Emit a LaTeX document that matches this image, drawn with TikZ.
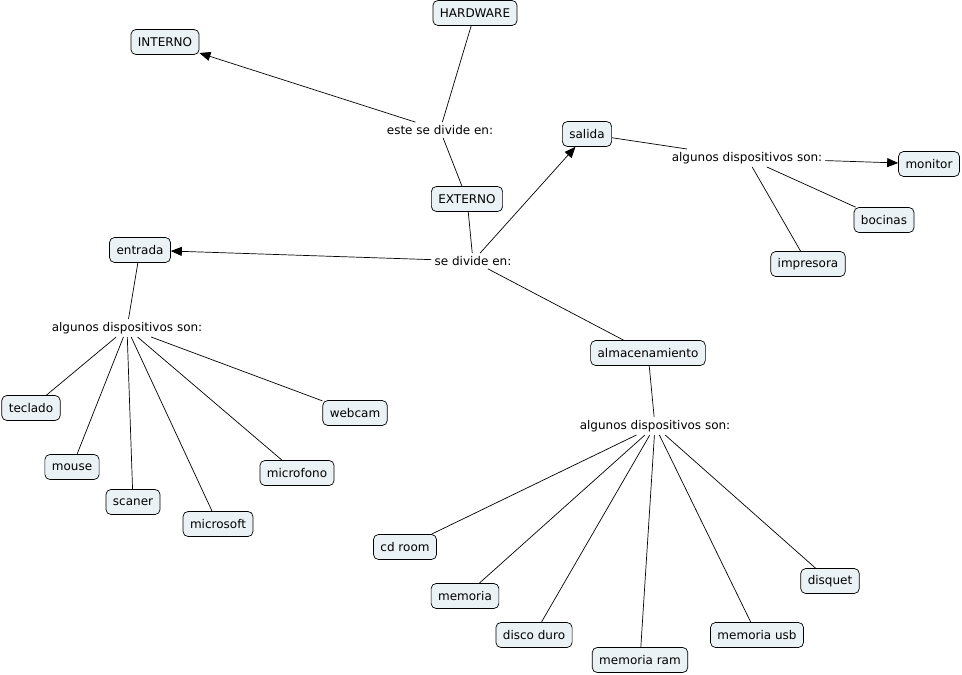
\documentclass[tikz,border=0pt]{standalone}
\usepackage{fontspec}
\setmainfont{DejaVu Sans}
\usepackage{xcolor}
\usetikzlibrary{positioning,shapes,arrows.meta}
\definecolor{fondo}{RGB}{235,242,245}
\begin{document}
\begin{tikzpicture}[x=1pt,y=-1pt,font=\fontsize{12}{14}\selectfont,
  concepto/.style={draw=black,fill=fondo,rounded corners=5pt,line width=0.7pt,inner xsep=7pt,minimum height=25pt},
  enlace/.style={inner sep=3pt},
  linea/.style={line width=0.7pt},
  flecha/.style={line width=0.7pt,-{Triangle[length=11pt,width=9pt]}}]
\useasboundingbox (0,0) rectangle (962,675);
\node [concepto] (hardware) at (475,13) {HARDWARE};
\node [concepto] (interno) at (165,42) {INTERNO};
\node [enlace] (divide1) at (440,130) {este se divide en:};
\node [concepto] (externo) at (467,199) {EXTERNO};
\node [enlace] (divide2) at (473,261) {se divide en:};
\node [concepto] (salida) at (587,134) {salida};
\node [concepto] (entrada) at (140,250) {entrada};
\node [concepto] (almacen) at (648,353) {almacenamiento};
\node [enlace] (algunos1) at (747,158) {algunos dispositivos son:};
\node [concepto] (monitor) at (929,164) {monitor};
\node [concepto] (bocinas) at (884,220) {bocinas};
\node [concepto] (impresora) at (808,264) {impresora};
\node [enlace] (algunos2) at (127,328) {algunos dispositivos son:};
\node [concepto] (teclado) at (31,408) {teclado};
\node [concepto] (mouse) at (72,467) {mouse};
\node [concepto] (scaner) at (133,502) {scaner};
\node [concepto] (microsoft) at (218,524) {microsoft};
\node [concepto] (microfono) at (297,473) {microfono};
\node [concepto] (webcam) at (355,413) {webcam};
\node [enlace] (algunos3) at (655,426) {algunos dispositivos son:};
\node [concepto] (cdroom) at (405,547) {cd room};
\node [concepto] (memoria) at (465,596) {memoria};
\node [concepto] (disco) at (534,635) {disco duro};
\node [concepto] (ram) at (640,660) {memoria ram};
\node [concepto] (usb) at (757,635) {memoria usb};
\node [concepto] (disquet) at (830,581) {disquet};
\draw [linea] (hardware) -- (divide1);
\draw [flecha] (divide1) -- (interno);
\draw [linea] (divide1) -- (externo);
\draw [linea] (externo) -- (divide2);
\draw [flecha] (divide2) -- (salida);
\draw [flecha] (divide2) -- (entrada);
\draw [linea] (divide2) -- (almacen);
\draw [linea] (salida) -- (algunos1);
\draw [flecha] (algunos1) -- (monitor);
\draw [linea] (algunos1) -- (bocinas);
\draw [linea] (algunos1) -- (impresora);
\draw [linea] (entrada) -- (algunos2);
\foreach \d in {teclado,mouse,scaner,microsoft,microfono,webcam}
  \draw [linea] (algunos2) -- (\d);
\draw [linea] (almacen) -- (algunos3);
\foreach \d in {cdroom,memoria,disco,ram,usb,disquet}
  \draw [linea] (algunos3) -- (\d);
\end{tikzpicture}
\end{document}
